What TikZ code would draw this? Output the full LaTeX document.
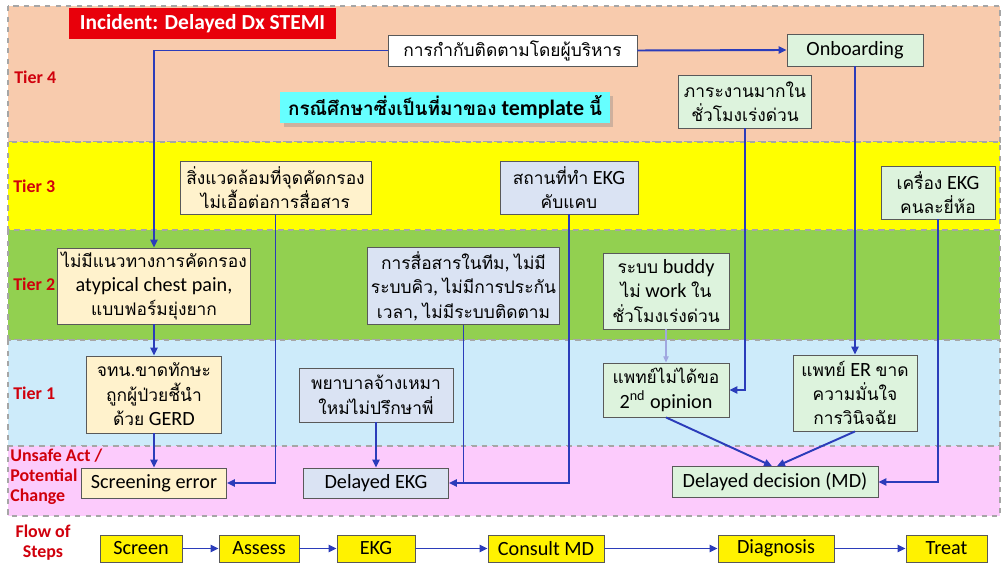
\documentclass[tikz,border=0pt]{standalone}
\usepackage{fontspec}
\setmainfont{Carlito}
\newfontfamily\thaifont[Script=Thai, Scale=0.86]{Loma}
\usepackage{xcolor}
\usepackage{tikz}
\usetikzlibrary{arrows.meta, positioning, shadows}

\newcommand{\thai}[1]{{\thaifont #1}}

\definecolor{tierfour}{HTML}{F8CBAD}
\definecolor{tierthree}{HTML}{FFFF00}
\definecolor{tiertwo}{HTML}{92D050}
\definecolor{tierone}{HTML}{CDEBFA}
\definecolor{unsafepink}{HTML}{FCCBFC}
\definecolor{boxbeige}{HTML}{FFF2CC}
\definecolor{boxblue}{HTML}{DAE3F3}
\definecolor{boxgreen}{HTML}{DDF3DD}
\definecolor{boxcyan}{HTML}{66FFFF}
\definecolor{titlered}{HTML}{E8000B}
\definecolor{tierred}{HTML}{D0000C}
\definecolor{linkblue}{HTML}{2B3CBA}

\tikzset{
  band/.style={draw=gray!70, dashed, line width=0.6pt},
  box/.style={shape=rectangle, draw=gray!70!black, line width=0.5pt, align=center, inner sep=2pt, font=\fontsize{11.5}{13.9}\selectfont},
  beigebox/.style={box, fill=boxbeige},
  bluebox/.style={box, fill=boxblue},
  greenbox/.style={box, fill=boxgreen},
  flowbox/.style={box, fill=yellow, draw=black!65},
  tierlabel/.style={anchor=west, text=tierred, align=left, inner sep=0pt, font=\bfseries\fontsize{10.2}{11.4}\selectfont},
  link/.style={draw=linkblue, line width=1.1pt, -{Triangle[length=4.5pt,width=4pt]}},
  joint/.style={draw=linkblue, line width=1.1pt},
}

\begin{document}
\begin{tikzpicture}[x=0.02cm, y=-0.02cm]
			\useasboundingbox (0,0) rectangle (1002,563);
			% Bands:
			\draw[band, fill=tierfour] (8,6) rectangle (1000,142);
			\draw[band, fill=tierthree] (8,142) rectangle (1000,230);
			\draw[band, fill=tiertwo] (8,230) rectangle (1000,340);
			\draw[band, fill=tierone] (8,340) rectangle (1000,446);
			\draw[band, fill=unsafepink] (8,446) rectangle (1000,516);
			% Tier 4:
			\node[shape=rectangle, fill=titlered, text=white, minimum width=5.34cm, minimum height=0.62cm, font=\bfseries\fontsize{12.2}{13.5}\selectfont] (title) at (202.5,23.5){Incident: Delayed Dx STEMI};
			\node[box, fill=white, minimum width=4.98cm, minimum height=0.62cm] (mgmt) at (512.5,50.5){\thai{การกำกับติดตามโดยผู้บริหาร}};
			\node[greenbox, minimum width=2.72cm, minimum height=0.64cm] (onboard) at (855,50){Onboarding};
			\node[box, fill=boxcyan, draw=none, drop shadow={shadow xshift=2pt, shadow yshift=-2pt, opacity=0.35}, minimum width=6.6cm, minimum height=0.62cm, font=\bfseries\fontsize{12.5}{14}\selectfont] (casestudy) at (445,107.5){\thai{กรณีศึกษาซึ่งเป็นที่มาของ} template \thai{นี้}};
			\node[greenbox, minimum width=2.66cm, minimum height=1.06cm] (workload) at (745,101.5){\thai{ภาระงานมากใน}\\\thai{ชั่วโมงเร่งด่วน}};
			% Tier 3:
			\node[beigebox, minimum width=3.82cm, minimum height=1.06cm] (env) at (275.5,187.5){\thai{สิ่งแวดล้อมที่จุดคัดกรอง}\\\thai{ไม่เอื้อต่อการสื่อสาร}};
			\node[bluebox, minimum width=2.76cm, minimum height=1.06cm] (ekgroom) at (569,187.5){\thai{สถานที่ทำ} EKG\\\thai{คับแคบ}};
			\node[greenbox, minimum width=2.28cm, minimum height=1.06cm] (ekgbrand) at (938,192.5){\thai{เครื่อง} EKG\\\thai{คนละยี่ห้อ}};
			% Tier 2:
			\node[beigebox, minimum width=3.8cm, minimum height=1.52cm] (noguide) at (154,286){\thai{ไม่มีแนวทางการคัดกรอง}\\atypical chest pain,\\\thai{แบบฟอร์มยุ่งยาก}};
			\node[bluebox, minimum width=3.78cm, minimum height=1.52cm] (teamcomm) at (463.5,286){\thai{การสื่อสารในทีม}, \thai{ไม่มี}\\\thai{ระบบคิว}, \thai{ไม่มีการประกัน}\\\thai{เวลา}, \thai{ไม่มีระบบติดตาม}};
			\node[greenbox, minimum width=2.52cm, minimum height=1.52cm] (buddy) at (666,291){\thai{ระบบ} buddy\\\thai{ไม่} work \thai{ใน}\\\thai{ชั่วโมงเร่งด่วน}};
			% Tier 1:
			\node[beigebox, minimum width=2.7cm, minimum height=1.54cm] (jtn) at (154,394.5){\thai{จทน.ขาดทักษะ}\\\thai{ถูกผู้ป่วยชี้นำ}\\\thai{ด้วย} GERD};
			\node[bluebox, minimum width=3.08cm, minimum height=1.08cm] (nurse) at (376,395){\thai{พยาบาลจ้างเหมา}\\\thai{ใหม่ไม่ปรึกษาพี่}};
			\node[greenbox, minimum width=2.52cm, minimum height=1.08cm] (nosecond) at (666,390){\thai{แพทย์ไม่ได้ขอ}\\2\textsuperscript{nd} opinion};
			\node[greenbox, minimum width=2.48cm, minimum height=1.52cm] (erdoc) at (855,393){\thai{แพทย์} ER \thai{ขาด}\\\thai{ความมั่นใจ}\\\thai{การวินิจฉัย}};
			% Unsafe act:
			\node[beigebox, minimum width=2.9cm, minimum height=0.6cm] (screrr) at (154,483){Screening error};
			\node[bluebox, minimum width=2.9cm, minimum height=0.6cm] (delekg) at (376,483){Delayed EKG};
			\node[greenbox, minimum width=4.12cm, minimum height=0.62cm] (deldec) at (775,482){Delayed decision (MD)};
			% Flow of steps:
			\node[flowbox, minimum width=1.64cm, minimum height=0.54cm] (screen) at (141,548.5){Screen};
			\node[flowbox, minimum width=1.6cm, minimum height=0.54cm] (assess) at (259,548.5){Assess};
			\node[flowbox, minimum width=1.56cm, minimum height=0.54cm] (ekg) at (376,548.5){EKG};
			\node[flowbox, minimum width=2.32cm, minimum height=0.54cm] (consult) at (546,548.5){Consult MD};
			\node[flowbox, minimum width=2.32cm, minimum height=0.54cm] (diag) at (776,548.5){Diagnosis};
			\node[flowbox, minimum width=1.62cm, minimum height=0.54cm] (treat) at (946.5,548.5){Treat};
			% Row labels:
			\node[tierlabel] (T4) at (14,77){Tier 4};
			\node[tierlabel] (T3) at (13,186){Tier 3};
			\node[tierlabel] (T2) at (13,284){Tier 2};
			\node[tierlabel] (T1) at (13,393){Tier 1};
			\node[tierlabel] (TU) at (10,477){Unsafe Act /\\Potential\\Change};
			\node[tierlabel, align=center, anchor=center] (TF) at (43,543){Flow of\\Steps};
			% Wires:
			\draw[link] (mgmt.west) -| (noguide.north);
			\draw[link] (mgmt.east) -- (onboard.west);
			\draw[link] (noguide.south) -- (jtn.north);
			\draw[link] (jtn.south) -- (screrr.north);
			\draw[link] (env.south) |- (screrr.east);
			\draw[link] (ekgroom.south) |- (delekg.east);
			\draw[joint] (teamcomm.south) -- (teamcomm.south |- delekg.east);
			\draw[link] (nurse.south) -- (delekg.north);
			\draw[link] (workload.south) |- (nosecond.east);
			\draw[-{Triangle[length=3.5pt,width=3pt]}, draw=linkblue!45, line width=0.6pt] (buddy.south) -- (nosecond.north);
			\draw[link] (onboard.south) -- (erdoc.north);
			\draw[link] (nosecond.south) -- ([xshift=-0.06cm]deldec.north);
			\draw[link] (erdoc.south) -- ([xshift=0.04cm]deldec.north);
			\draw[link] (ekgbrand.south) |- (deldec.east);
			\draw[link] (screen) -- (assess);
			\draw[link] (assess) -- (ekg);
			\draw[link] (ekg) -- (consult);
			\draw[link] (consult) -- (diag);
			\draw[link] (diag) -- (treat);
		\end{tikzpicture}
\end{document}
